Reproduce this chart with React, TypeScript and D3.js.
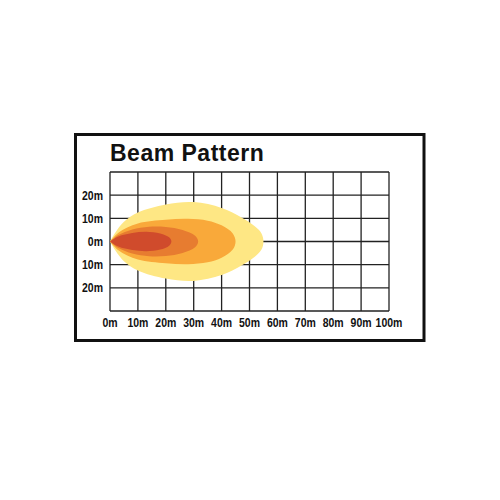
import { useEffect, useRef } from 'react';
import * as d3 from 'd3';

// distance ticks along the throw (metres)
const xTicks = [0, 10, 20, 30, 40, 50, 60, 70, 80, 90, 100];
// lateral grid (metres from centre); only inner ones get labels
const yGrid = [-30, -20, -10, 0, 10, 20, 30];
const yLabelled = [20, 10, 0, -10, -20];

// beam outlines: [distance, half-width] pairs, outer to inner
const beamYellow: [number, number][] = [[0, 0], [2, 4], [5, 8.5], [10, 12.5], [20, 16], [30, 17], [40, 14.5], [47, 10.5], [52, 6.5], [54.3, 3.5], [55, 0]];
const beamOrange: [number, number][] = [[0, 0], [3, 3.8], [10, 7.8], [20, 9.4], [28, 9.8], [35, 9], [40, 7], [44, 3.5], [45, 0]];
const beamDark: [number, number][] = [[0, 0], [3, 2.8], [8, 5.2], [14, 6.4], [20, 6.3], [26, 5], [30.5, 2.5], [31.6, 0]];
const beamRed: [number, number][] = [[0, 0], [3, 2.2], [8, 3.7], [13, 4.2], [18, 3.5], [21.2, 1.8], [22, 0]];

const beams = [
  { pts: beamYellow, color: '#fee784' },
  { pts: beamOrange, color: '#f9a93a' },
  { pts: beamDark, color: '#e77c30' },
  { pts: beamRed, color: '#d04b2c' },
];

export default function App() {
  const ref = useRef<SVGSVGElement>(null);

  useEffect(() => {
    if (!ref.current) return;
    const svg = d3.select(ref.current);
    svg.selectAll('*').remove();

    svg.append('rect').attr('width', 500).attr('height', 500).attr('fill', '#fff');

    // outer frame
    svg.append('rect').attr('x', 75.5).attr('y', 134.5).attr('width', 348.5).attr('height', 206)
      .attr('fill', '#fff').attr('stroke', '#111').attr('stroke-width', 3);

    svg.append('text').attr('x', 110).attr('y', 161)
      .attr('font-family', "'Liberation Sans', Arial, sans-serif").attr('font-weight', 700)
      .attr('font-size', 23).attr('letter-spacing', 0.5).attr('fill', '#111')
      .text('Beam Pattern');

    const x = d3.scaleLinear().domain([0, 100]).range([110, 389]);
    const y = d3.scaleLinear().domain([-30, 30]).range([311, 172]);

    const grid = svg.append('g');
    xTicks.forEach(t => {
      grid.append('line').attr('x1', x(t)).attr('x2', x(t)).attr('y1', y(30)).attr('y2', y(-30))
        .attr('stroke', '#222').attr('stroke-width', 1.3);
    });
    yGrid.forEach(t => {
      grid.append('line').attr('x1', x(0)).attr('x2', x(100)).attr('y1', y(t)).attr('y2', y(t))
        .attr('stroke', '#222').attr('stroke-width', 1.3);
    });

    // beam shapes: trace upper edge out to the tip, then the mirrored lower edge back
    const line = d3.line<[number, number]>()
      .x(d => x(d[0])).y(d => y(d[1]))
      .curve(d3.curveCatmullRom);
    beams.forEach(b => {
      const lower = b.pts.slice(0, -1).reverse().map(([d, w]) => [d, -w] as [number, number]);
      svg.append('path').attr('d', line([...b.pts, ...lower])).attr('fill', b.color);
    });

    const labelFont = "'Liberation Sans', Arial, sans-serif";
    svg.append('g').selectAll('text').data(xTicks).enter().append('text')
      .attr('transform', d => `translate(${x(d)},327) scale(0.84,1)`)
      .attr('text-anchor', 'middle').attr('font-family', labelFont).attr('font-weight', 700)
      .attr('font-size', 12.5).attr('fill', '#111')
      .text(d => `${d}m`);

    svg.append('g').selectAll('text').data(yLabelled).enter().append('text')
      .attr('transform', d => `translate(103,${y(d)}) scale(0.84,1)`)
      .attr('dy', '0.36em')
      .attr('text-anchor', 'end').attr('font-family', labelFont).attr('font-weight', 700)
      .attr('font-size', 12.5).attr('fill', '#111')
      .text(d => `${Math.abs(d)}m`);
  }, []);

  return (
    <svg ref={ref} width={500} height={500}
      style={{ position: 'absolute', left: 0, top: 0, display: 'block' }} />
  );
}
